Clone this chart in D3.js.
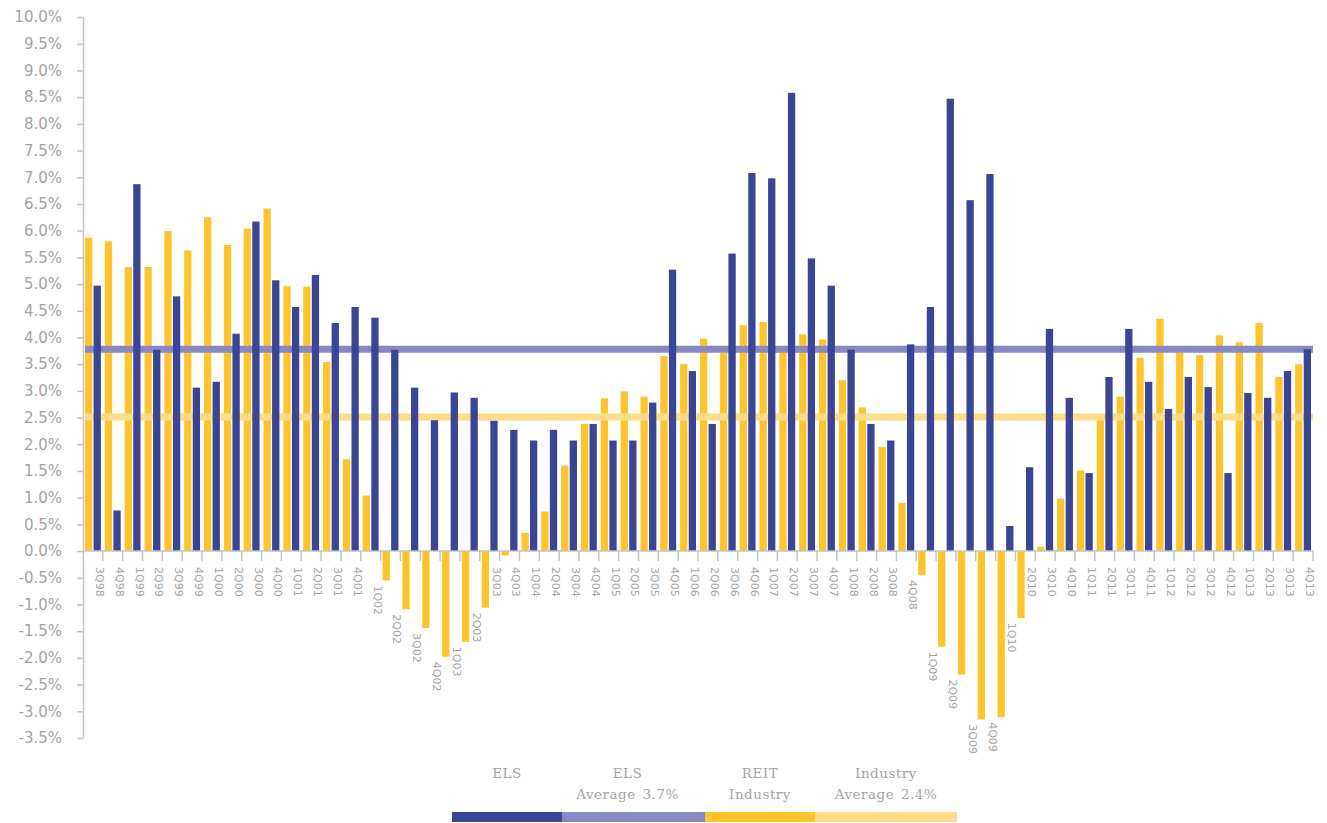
<!DOCTYPE html>
<html>
<head>
<meta charset="utf-8">
<script src="https://cdn.jsdelivr.net/npm/d3@7"></script>
<style>
  body { margin: 0; background: #fff; }
  svg { display: block; }
</style>
</head>
<body>
<svg id="chart"></svg>
<script>
const quarters = [
  "3Q98", "4Q98",
  "1Q99", "2Q99", "3Q99", "4Q99",
  "1Q00", "2Q00", "3Q00", "4Q00",
  "1Q01", "2Q01", "3Q01", "4Q01",
  "1Q02", "2Q02", "3Q02", "4Q02",
  "1Q03", "2Q03", "3Q03", "4Q03",
  "1Q04", "2Q04", "3Q04", "4Q04",
  "1Q05", "2Q05", "3Q05", "4Q05",
  "1Q06", "2Q06", "3Q06", "4Q06",
  "1Q07", "2Q07", "3Q07", "4Q07",
  "1Q08", "2Q08", "3Q08", "4Q08",
  "1Q09", "2Q09", "3Q09", "4Q09",
  "1Q10", "2Q10", "3Q10", "4Q10",
  "1Q11", "2Q11", "3Q11", "4Q11",
  "1Q12", "2Q12", "3Q12", "4Q12",
  "1Q13", "2Q13", "3Q13", "4Q13"
];

// REIT industry (yellow)
const reit = [
  5.87, 5.80, 5.32, 5.32, 5.99, 5.63, 6.25, 5.73, 6.04, 6.41,
  4.96, 4.95, 3.54, 1.72, 1.04, -0.55, -1.09, -1.44, -1.98, -1.70,
  -1.06, -0.08, 0.34, 0.74, 1.60, 2.38, 2.86, 2.99, 2.89, 3.65,
  3.50, 3.98, 3.72, 4.23, 4.29, 3.72, 4.06, 3.96, 3.20, 2.69,
  1.95, 0.90, -0.45, -1.79, -2.31, -3.15, -3.11, -1.25, 0.08, 0.98,
  1.51, 2.56, 2.89, 3.62, 4.35, 3.72, 3.67, 4.04, 3.91, 4.27,
  3.26, 3.50
];

// ELS (blue)
const els = [
  4.97, 0.76, 6.87, 3.77, 4.77, 3.06, 3.17, 4.07, 6.17, 5.07,
  4.57, 5.17, 4.27, 4.57, 4.37, 3.77, 3.06, 2.45, 2.97, 2.87,
  2.44, 2.27, 2.07, 2.27, 2.07, 2.38, 2.07, 2.07, 2.78, 5.27,
  3.37, 2.38, 5.57, 7.08, 6.98, 8.58, 5.48, 4.97, 3.77, 2.38,
  2.07, 3.87, 4.57, 8.47, 6.57, 7.06, 0.47, 1.57, 4.16, 2.87,
  1.46, 3.26, 4.16, 3.17, 2.66, 3.26, 3.07, 1.46, 2.96, 2.87,
  3.37, 3.78
];

const averages = [
  { key: "els", value: 3.78 },
  { key: "reit", value: 2.51 }
];

const legendItems = [
  { key: "els", lines: ["ELS"] },
  { key: "elsAvg", lines: ["ELS", "Average  3.7%"] },
  { key: "reit", lines: ["REIT", "Industry"] },
  { key: "reitAvg", lines: ["Industry", "Average  2.4%"] }
];

const colors = {
  els: "#3b4595",
  elsAvg: "#8789c3",
  reit: "#fec42d",
  reitAvg: "#fedd8a"
};

const w = 1327;
const h = 823;
const pLeft = 83, pRight = 1313, pTop = 17, pBottom = 738;
const axisColor = "#c4c4c4";
const textColor = "#a3a3a3";

const svg = d3.select("#chart").attr("width", w).attr("height", h);

const y = d3.scaleLinear().domain([-3.5, 10]).range([pBottom, pTop]);

const x = d3.scaleBand()
  .domain(quarters)
  .range([pLeft, pRight])
  .paddingInner(0.2)
  .paddingOuter(0.1);

const x1 = d3.scaleBand()
  .domain(["reit", "els"])
  .range([0, x.bandwidth()])
  .paddingInner(0.15);

const gap = x.step() - x.bandwidth();

// y axis
const yAxis = svg.append("g")
  .attr("transform", `translate(${pLeft},0)`)
  .call(d3.axisLeft(y)
    .ticks(27)
    .tickSize(6)
    .tickSizeOuter(0)
    .tickPadding(15)
    .tickFormat(d => d.toFixed(1) + "%"));
yAxis.select(".domain").attr("stroke", axisColor).attr("stroke-width", 1.5);
yAxis.selectAll(".tick line").attr("stroke", axisColor).attr("stroke-width", 1.5);
yAxis.selectAll(".tick text")
  .attr("fill", textColor)
  .style("font-family", "'DejaVu Sans', sans-serif")
  .style("font-size", "15px");

// REIT bars (behind the average lines)
svg.append("g")
  .selectAll("rect")
  .data(quarters)
  .enter()
  .append("rect")
  .attr("x", d => x(d) + x1("reit"))
  .attr("width", x1.bandwidth())
  .attr("y", (d, i) => y(Math.max(0, reit[i])))
  .attr("height", (d, i) => Math.abs(y(reit[i]) - y(0)))
  .attr("fill", colors.reit);

// average lines
svg.append("g")
  .selectAll("line")
  .data(averages)
  .enter()
  .append("line")
  .attr("x1", x(quarters[0]))
  .attr("x2", pRight)
  .attr("y1", d => y(d.value))
  .attr("y2", d => y(d.value))
  .attr("stroke", d => d.key === "els" ? colors.elsAvg : colors.reitAvg)
  .attr("stroke-width", 7);

// ELS bars
svg.append("g")
  .selectAll("rect")
  .data(quarters)
  .enter()
  .append("rect")
  .attr("x", d => x(d) + x1("els"))
  .attr("width", x1.bandwidth())
  .attr("y", (d, i) => y(Math.max(0, els[i])))
  .attr("height", (d, i) => Math.abs(y(els[i]) - y(0)))
  .attr("fill", colors.els);

// x axis line and ticks between quarters
svg.append("line")
  .attr("x1", pLeft)
  .attr("x2", pRight)
  .attr("y1", y(0))
  .attr("y2", y(0))
  .attr("stroke", axisColor)
  .attr("stroke-width", 1.5);

svg.append("g")
  .selectAll("line")
  .data(quarters)
  .enter()
  .append("line")
  .attr("x1", d => x(d) + x.bandwidth() + gap / 2)
  .attr("x2", d => x(d) + x.bandwidth() + gap / 2)
  .attr("y1", y(0))
  .attr("y2", y(0) + 10)
  .attr("stroke", axisColor)
  .attr("stroke-width", 1.5);

// quarter labels, pushed down below the next negative bar
svg.append("g")
  .selectAll("text")
  .data(quarters)
  .enter()
  .append("text")
  .attr("transform", (d, i) => {
    const lx = x(d) + x.bandwidth() + gap / 2 - 3.5;
    const next = i + 1 < reit.length ? Math.min(0, reit[i + 1]) : 0;
    const ly = Math.max(y(0) + 16, y(next) + 5);
    return `translate(${lx},${ly}) rotate(90)`;
  })
  .attr("dominant-baseline", "central")
  .attr("fill", textColor)
  .style("font-family", "'DejaVu Sans', sans-serif")
  .style("font-size", "11px")
  .text(d => d);

// legend
const legendWidths = { els: 110, elsAvg: 143, reit: 110, reitAvg: 142 };
let legX = 452;
const legend = svg.append("g").attr("class", "legend");
legendItems.forEach(item => {
  const wd = legendWidths[item.key];
  legend.append("rect")
    .attr("x", legX)
    .attr("y", 812)
    .attr("width", wd)
    .attr("height", 10)
    .attr("fill", colors[item.key]);
  item.lines.forEach((t, j) => {
    legend.append("text")
      .attr("x", legX + wd / 2 - (item.key === "elsAvg" ? 6 : 0))
      .attr("y", 778 + j * 21)
      .attr("text-anchor", "middle")
      .attr("fill", textColor)
      .style("font-family", "'DejaVu Serif', serif")
      .style("font-size", "13.5px")
      .style("letter-spacing", "0.5px")
      .style("word-spacing", "2px")
      .text(t);
  });
  legX += wd;
});
</script>
</body>
</html>
